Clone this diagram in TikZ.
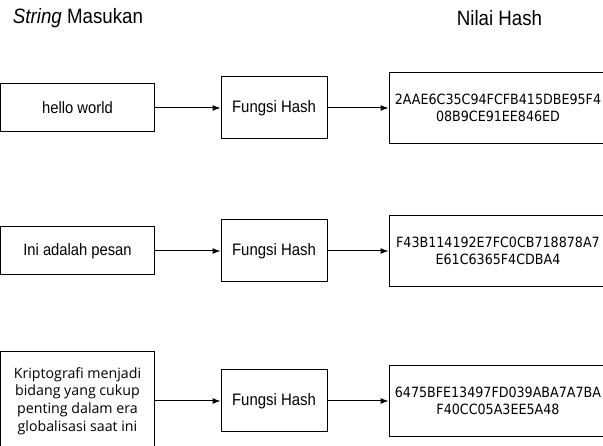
\documentclass[tikz,border=0pt]{standalone}
\usepackage{fontspec}
\setmainfont[FakeStretch=0.9]{Liberation Sans}
\newfontfamily\hexfont[FakeStretch=0.9]{DejaVu Sans}
\newfontfamily\msgfont{Open Sans}
\usetikzlibrary{arrows.meta}

\begin{document}
\begin{tikzpicture}[
  x=1pt, y=-1pt,
  >={Latex[length=8pt,width=6pt]},
  box/.style={draw, line width=1pt, inner sep=0pt, align=center},
  inbox/.style={box, minimum width=154pt, minimum height=48pt, font=\fontsize{16.4}{19}\selectfont},
  fnbox/.style={box, minimum width=106pt, minimum height=62pt, font=\fontsize{16.6}{19}\selectfont},
  hashbox/.style={box, minimum width=218pt, minimum height=71pt, font=\hexfont\fontsize{14.1}{16.7}\selectfont},
  title/.style={font=\fontsize{20.8}{24}\selectfont, inner sep=0pt},
  link/.style={->, line width=1pt}
]
  \useasboundingbox (0,0) rectangle (603,446);

  % Column titles
  \node[title] (tin)  at (78,18)    {\textit{String} Masukan};
  \node[title] (tout) at (499.5,18) {Nilai Hash};

  % First message
  \node[inbox]   (in1)  at (77.5,108) {hello world};
  \node[fnbox]   (fn1)  at (274,108)  {Fungsi Hash};
  \node[hashbox] (out1) at (498,108)  {2AAE6C35C94FCFB415DBE95F4\\08B9CE91EE846ED};
  \draw[link] (in1) -- (fn1);
  \draw[link] (fn1) -- (out1);

  % Second message
  \node[inbox]   (in2)  at (77.5,251) {Ini adalah pesan};
  \node[fnbox]   (fn2)  at (274,251)  {Fungsi Hash};
  \node[hashbox] (out2) at (498,251)  {F43B114192E7FC0CB718878A7\\E61C6365F4CDBA4};
  \draw[link] (in2) -- (fn2);
  \draw[link] (fn2) -- (out2);

  % Third message
  \node[inbox, minimum height=98pt, font=\msgfont\fontsize{14.2}{17.7}\selectfont]
    (in3) at (77.5,401) {Kriptografi menjadi\\bidang yang cukup\\penting dalam era\\globalisasi saat ini};
  \node[fnbox]   (fn3)  at (274,401)  {Fungsi Hash};
  \node[hashbox] (out3) at (498,401)  {6475BFE13497FD039ABA7A7BA\\F40CC05A3EE5A48};
  \draw[link] (in3) -- (fn3);
  \draw[link] (fn3) -- (out3);
\end{tikzpicture}
\end{document}
